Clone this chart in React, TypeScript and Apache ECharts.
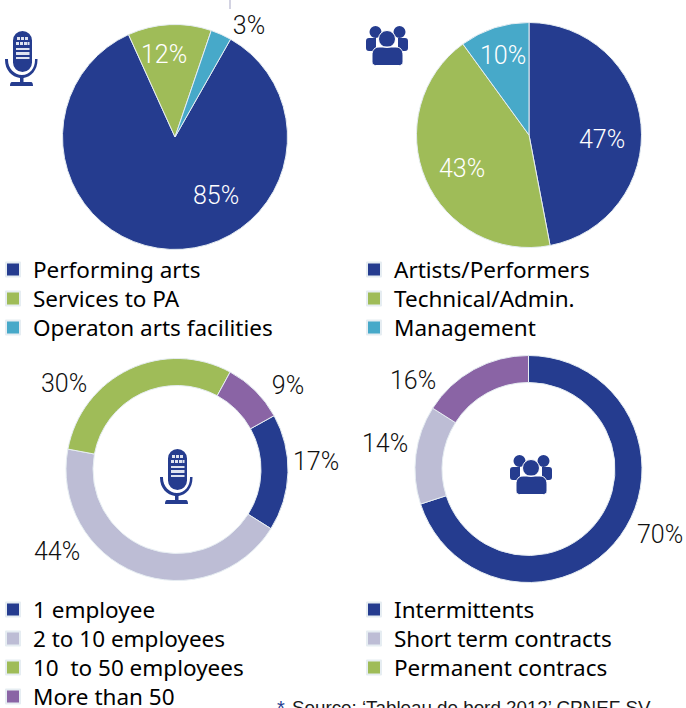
import React, { useEffect, useRef } from "react";
import * as echarts from "echarts";

const BLUE = "#253c8f";
const GREEN = "#9fbc58";
const TEAL = "#47a9c9";
const GREY = "#bdbdd5";
const PURPLE = "#8a64a5";

const sectorNames = ["Performing arts", "Services to PA", "Operaton arts facilities"];
const sectorValues = [85, 12, 3];
const staffNames = ["Artists/Performers", "Technical/Admin.", "Management"];
const staffValues = [47, 43, 10];
const sizeNames = ["1 employee", "2 to 10 employees", "10  to 50 employees", "More than 50"];
const sizeValues = [17, 44, 30, 9];
const contractNames = ["Intermittents", "Short term contracts", "Permanent contracs"];
const contractValues = [70, 14, 16];
const sourceText = "Source: ‘Tableau de bord 2012’ CPNEF SV";

const LABEL_DARK = "#111111";
const LABEL_LIGHT = "#ffffff";

const MIC_BODY =
  "M8 9.5A9.5 9.5 0 0 1 27 9.5V31.5A9.5 9.5 0 0 1 8 31.5Z" +
  "M0 28H3V29C3 37 9 44 17 44C25 44 30 37 30 29V28H32.5V29C32.5 39 26 46 18.5 47V51H26C27.5 51 28 53 28 55H5C5 53 5.5 51 7 51H15V47C7 46 0 39 0 29Z";
const MIC_GRILLE =
  "M12 6H15V9H12ZM16 6H19V9H16ZM20 6H23V9H20Z" +
  "M11 11H14V14H11ZM15 11H18V14H15ZM19 11H22V14H19ZM22.5 11H24.5V14H22.5Z" +
  "M11 17H24.5V19H11ZM11 21H24.5V24H11ZM11 26H24.5V28H11Z";
const PEOPLE_SIDES =
  "M3.5 6A6 6 0 1 1 15.5 6A6 6 0 1 1 3.5 6Z" +
  "M27.5 6A6 6 0 1 1 39.5 6A6 6 0 1 1 27.5 6Z" +
  "M3 12H10V25H3C1 25 0 24 0 22V15C0 13 1 12 3 12Z" +
  "M32 12H39C41 12 42 13 42 15V22C42 24 41 25 39 25H32Z";
const PEOPLE_CENTRE =
  "M12.5 13A8.5 8.5 0 1 1 29.5 13A8.5 8.5 0 1 1 12.5 13Z" +
  "M13 21H30C34 21 37 24 37 29V36C37 38 35.5 39.5 33.5 39.5H9.5C7.5 39.5 6 38 6 36V29C6 24 9 21 13 21Z";

echarts.graphic.registerShape("micBody", echarts.graphic.extendPath(MIC_BODY, {}));
echarts.graphic.registerShape("micGrille", echarts.graphic.extendPath(MIC_GRILLE, {}));
echarts.graphic.registerShape("peopleSides", echarts.graphic.extendPath(PEOPLE_SIDES, {}));
echarts.graphic.registerShape("peopleCentre", echarts.graphic.extendPath(PEOPLE_CENTRE, {}));

function mic(x: number, y: number) {
  return [
    { type: "micBody", x, y, style: { fill: BLUE } },
    { type: "micGrille", x, y, style: { fill: "#dfe3f0" } },
  ];
}

function people(x: number, y: number) {
  return [
    { type: "peopleSides", x, y, style: { fill: BLUE } },
    { type: "peopleCentre", x, y, style: { fill: BLUE, stroke: "#ffffff", lineWidth: 1 } },
  ];
}

function pie(
  names: string[],
  values: number[],
  colors: string[],
  center: number[],
  radius: number | number[],
  startAngle: number,
  labelColors: string[],
  labelAt: number[][],
) {
  return {
    type: "pie",
    center,
    radius,
    startAngle,
    clockwise: true,
    avoidLabelOverlap: false,
    silent: true,
    itemStyle: { borderColor: "#e6edf2", borderWidth: 1 },
    labelLine: { show: false },
    label: {
      show: true,
      position: "outside",
      formatter: "{c}%",
      fontFamily: "Roboto",
      fontWeight: 300,
      fontSize: 25,
    },
    labelLayout: (p: any) => ({
      x: labelAt[p.dataIndex][0],
      y: labelAt[p.dataIndex][1],
      align: "center",
      verticalAlign: "middle",
    }),
    data: names.map((name, i) => ({
      name,
      value: values[i],
      itemStyle: { color: colors[i] },
      label: { color: labelColors[i] },
    })),
  };
}

function legend(left: number, top: number, data: any[]) {
  return {
    orient: "vertical",
    left,
    top,
    height: 140,
    padding: 0,
    icon: "rect",
    itemWidth: 14,
    itemHeight: 14,
    itemGap: 6,
    selectedMode: false,
    data,
    textStyle: {
      fontFamily: "Noto Sans",
      fontSize: 22.5,
      color: "#000000",
      padding: [0, 0, 0, 8],
      lineHeight: 22,
    },
  };
}

export default function App() {
  const ref = useRef<HTMLDivElement>(null);
  useEffect(() => {
    document.body.style.margin = "0";
    document.body.style.overflow = "hidden";
    const chart = echarts.init(ref.current!, null, { renderer: "svg" });
    chart.setOption({
      animation: false,
      backgroundColor: "#ffffff",
      legend: [
        legend(5, 258, sectorNames),
        legend(366, 258, staffNames),
        legend(5, 598, sizeNames),
        legend(366, 598, [
          contractNames[0],
          contractNames[1],
          { name: contractNames[2], itemStyle: { color: GREEN } },
        ]),
      ],
      series: [
        pie(sectorNames, sectorValues, [BLUE, GREEN, TEAL], [175, 137], 112.5, 60.4,
          [LABEL_LIGHT, LABEL_LIGHT, LABEL_DARK], [[216, 195], [164, 54], [249, 25]]),
        pie(staffNames, staffValues, [BLUE, GREEN, TEAL], [529, 135], 112.5, 90,
          [LABEL_LIGHT, LABEL_LIGHT, LABEL_LIGHT], [[602, 139], [462, 168], [503, 55]]),
        pie(sizeNames, sizeValues, [BLUE, GREY, GREEN, PURPLE], [177, 469.5], [84, 111], 29,
          [LABEL_DARK, LABEL_DARK, LABEL_DARK, LABEL_DARK], [[316, 461], [57, 551], [64, 383], [288, 385]]),
        pie(contractNames, contractValues, [BLUE, GREY, PURPLE], [528.5, 469], [86.5, 113.5], 90,
          [LABEL_DARK, LABEL_DARK, LABEL_DARK], [[660, 534], [385, 443], [413, 380]]),
      ],
      graphic: [
        { type: "line", shape: { x1: 230, y1: 0, x2: 230, y2: 9 }, style: { stroke: "#c4c4d8", lineWidth: 1.5 } },
        ...mic(5, 31),
        ...mic(160, 449),
        ...people(366, 26),
        ...people(510, 455),
        {
          type: "text",
          x: 277,
          y: 698,
          style: { text: "*", fill: BLUE, font: "20px 'Liberation Sans'" },
        },
        {
          type: "text",
          x: 292,
          y: 698,
          style: { text: sourceText, fill: "#1a1a1a", font: "18.8px 'Liberation Sans'" },
        },
      ],
    });
    return () => chart.dispose();
  }, []);
  return <div ref={ref} style={{ width: 686, height: 708 }} />;
}
